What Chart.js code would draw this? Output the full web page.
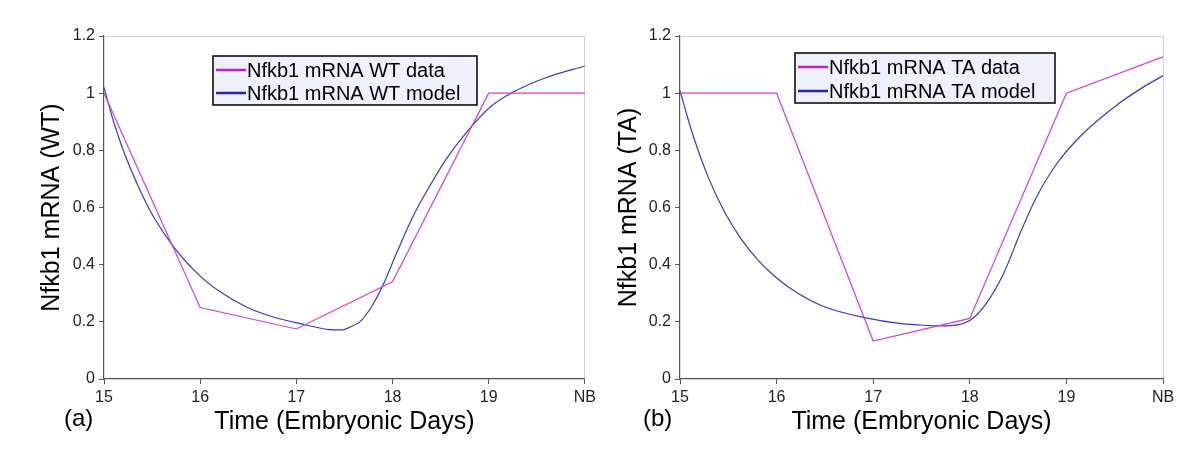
<!DOCTYPE html>
<html lang="en">
<head>
  <meta charset="UTF-8">
  <title>Nfkb1 mRNA WT and TA</title>
  <script src="https://cdn.jsdelivr.net/npm/chart.js"></script>
  <style>
    body { margin: 0; background: #fff; font-family: "Liberation Sans", Arial, sans-serif; }
    .wrap { position: relative; width: 1200px; height: 450px; }
    canvas { position: absolute; top: 0; }
    #chartWT { left: 0; }
    #chartTA { left: 600px; }
    .panel-label { position: absolute; top: 404px; font-size: 24px; color: #000; }
  </style>
</head>
<body>
  <div class="wrap">
    <canvas id="chartWT" width="600" height="450"></canvas>
    <canvas id="chartTA" width="600" height="450"></canvas>
    <span class="panel-label" style="left: 64px;">(a)</span>
    <span class="panel-label" style="left: 643px;">(b)</span>
  </div>

  <script>
    // x axis: embryonic days, NB (newborn) placed at 20
    const dayTicks = [15, 16, 17, 18, 19, 20];
    const dayLabels = ['15', '16', '17', '18', '19', 'NB'];

    // measured points
    const dataDays = [15, 16, 17, 18, 19, 20];
    const wtData = [1.0, 0.25, 0.175, 0.34, 1.0, 1.0];
    const taData = [1.0, 1.0, 0.133, 0.212, 1.0, 1.127];

    // model curves
    const wtModelDays = [15, 15.1, 15.2, 15.375, 15.51, 15.74, 16, 16.2, 16.48, 16.76, 17.04, 17.35, 17.48, 17.56, 17.66,
      17.78, 17.9, 18.04, 18.21, 18.38, 18.56, 18.8, 19.01, 19.25, 19.6, 20];
    const wtModel = [1.02, 0.9, 0.8, 0.66, 0.57, 0.455, 0.36, 0.307, 0.252, 0.217, 0.194, 0.173, 0.172, 0.182, 0.2,
      0.252, 0.328, 0.439, 0.567, 0.671, 0.77, 0.875, 0.95, 1.003, 1.055, 1.095];

    const taModelDays = [15, 15.08, 15.15, 15.29, 15.46, 15.63, 15.81, 16.01, 16.22, 16.5, 16.91, 17.29, 17.53, 17.72, 18,
      18.17, 18.35, 18.52, 18.69, 18.9, 19.17, 19.52, 19.8, 20];
    const taModel = [1.01, 0.913, 0.837, 0.708, 0.585, 0.491, 0.415, 0.351, 0.3, 0.252, 0.215, 0.194, 0.188, 0.186, 0.205,
      0.264, 0.369, 0.509, 0.636, 0.753, 0.858, 0.958, 1.022, 1.061];

    const yTicks = [0, 0.2, 0.4, 0.6, 0.8, 1, 1.2];

    const pink = '#cc44cc';
    const blue = '#3a3ab8';

    function toPoints(xs, ys) {
      return xs.map((x, i) => ({ x: x, y: ys[i] }));
    }

    // legend box drawn inside the plot area
    const insideLegend = {
      id: 'insideLegend',
      afterDraw(chart, args, opts) {
        const ctx = chart.ctx;
        const area = chart.chartArea;
        const x = area.left + opts.offsetX;
        const y = area.top + opts.offsetY;
        ctx.save();
        ctx.fillStyle = '#f0f0fc';
        ctx.fillRect(x, y, opts.width, opts.height);
        ctx.strokeStyle = '#000';
        ctx.lineWidth = 1.5;
        ctx.strokeRect(x, y, opts.width, opts.height);
        ctx.font = '20px "Liberation Sans", Arial, sans-serif';
        ctx.textBaseline = 'middle';
        chart.data.datasets.forEach((ds, i) => {
          const rowY = y + 14 + i * opts.rowGap;
          ctx.strokeStyle = ds.legendColor;
          ctx.lineWidth = 2.5;
          ctx.beginPath();
          ctx.moveTo(x + 3, rowY);
          ctx.lineTo(x + 33, rowY);
          ctx.stroke();
          ctx.fillStyle = '#000';
          ctx.fillText(ds.label, x + 34, rowY + 1);
        });
        ctx.restore();
      }
    };

    function makeChart(id, tag, dataVals, modelDays, modelVals, layout, legendPos) {
      const lastY = yTicks.length - 1;
      const lastX = dayTicks.length - 1;
      return new Chart(document.getElementById(id), {
        type: 'scatter',
        data: {
          datasets: [
            {
              label: 'Nfkb1 mRNA ' + tag + ' data',
              data: toPoints(dataDays, dataVals),
              showLine: true,
              borderColor: pink,
              legendColor: '#c020c0',
              borderWidth: 1.2,
              pointRadius: 0,
              tension: 0
            },
            {
              label: 'Nfkb1 mRNA ' + tag + ' model',
              data: toPoints(modelDays, modelVals),
              showLine: true,
              borderColor: blue,
              legendColor: '#2424a8',
              borderWidth: 1.2,
              pointRadius: 0,
              cubicInterpolationMode: 'monotone'
            }
          ]
        },
        options: {
          responsive: false,
          animation: false,
          layout: { padding: layout.padding },
          plugins: {
            legend: { display: false },
            tooltip: { enabled: false },
            insideLegend: legendPos
          },
          scales: {
            x: {
              type: 'linear',
              min: 15,
              max: 20,
              afterBuildTicks: axis => { axis.ticks = dayTicks.map(v => ({ value: v })); },
              afterFit: axis => { axis.height = layout.xHeight; },
              ticks: {
                callback: (v, i) => dayLabels[i],
                maxRotation: 0,
                autoSkip: false,
                padding: 4,
                color: '#222',
                font: { family: '"Liberation Sans", Arial', size: 16 }
              },
              grid: {
                color: ctx => ctx.index === lastX ? '#d0d0d0' : 'rgba(0,0,0,0)',
                tickColor: '#555',
                tickLength: 5
              },
              border: { color: '#555', width: 1.2 },
              title: {
                display: true,
                text: 'Time (Embryonic Days)',
                color: '#000',
                padding: 0,
                font: { family: '"Liberation Sans", Arial', size: 25 }
              }
            },
            y: {
              min: 0,
              max: 1.2,
              afterBuildTicks: axis => { axis.ticks = yTicks.map(v => ({ value: v })); },
              afterFit: axis => { axis.width = layout.yWidth; },
              ticks: {
                callback: v => String(+v.toFixed(1)),
                padding: 4,
                color: '#222',
                font: { family: '"Liberation Sans", Arial', size: 16 }
              },
              grid: {
                color: ctx => ctx.index === lastY ? '#d0d0d0' : 'rgba(0,0,0,0)',
                tickColor: '#555',
                tickLength: 5
              },
              border: { color: '#555', width: 1.2 },
              title: {
                display: true,
                text: 'Nfkb1 mRNA (' + tag + ')',
                color: '#000',
                padding: 0,
                font: { family: '"Liberation Sans", Arial', size: 25 }
              }
            }
          }
        },
        plugins: [insideLegend]
      });
    }

    makeChart('chartWT', 'WT', wtData, wtModelDays, wtModel,
      { padding: { left: 37, right: 15, top: 36, bottom: 13 }, yWidth: 67, xHeight: 58 },
      { offsetX: 109, offsetY: 20, width: 264, height: 49, rowGap: 23 });

    makeChart('chartTA', 'TA', taData, taModelDays, taModel,
      { padding: { left: 14, right: 37, top: 36, bottom: 13 }, yWidth: 66, xHeight: 58 },
      { offsetX: 115, offsetY: 17, width: 260, height: 50, rowGap: 24 });
  </script>
</body>
</html>
